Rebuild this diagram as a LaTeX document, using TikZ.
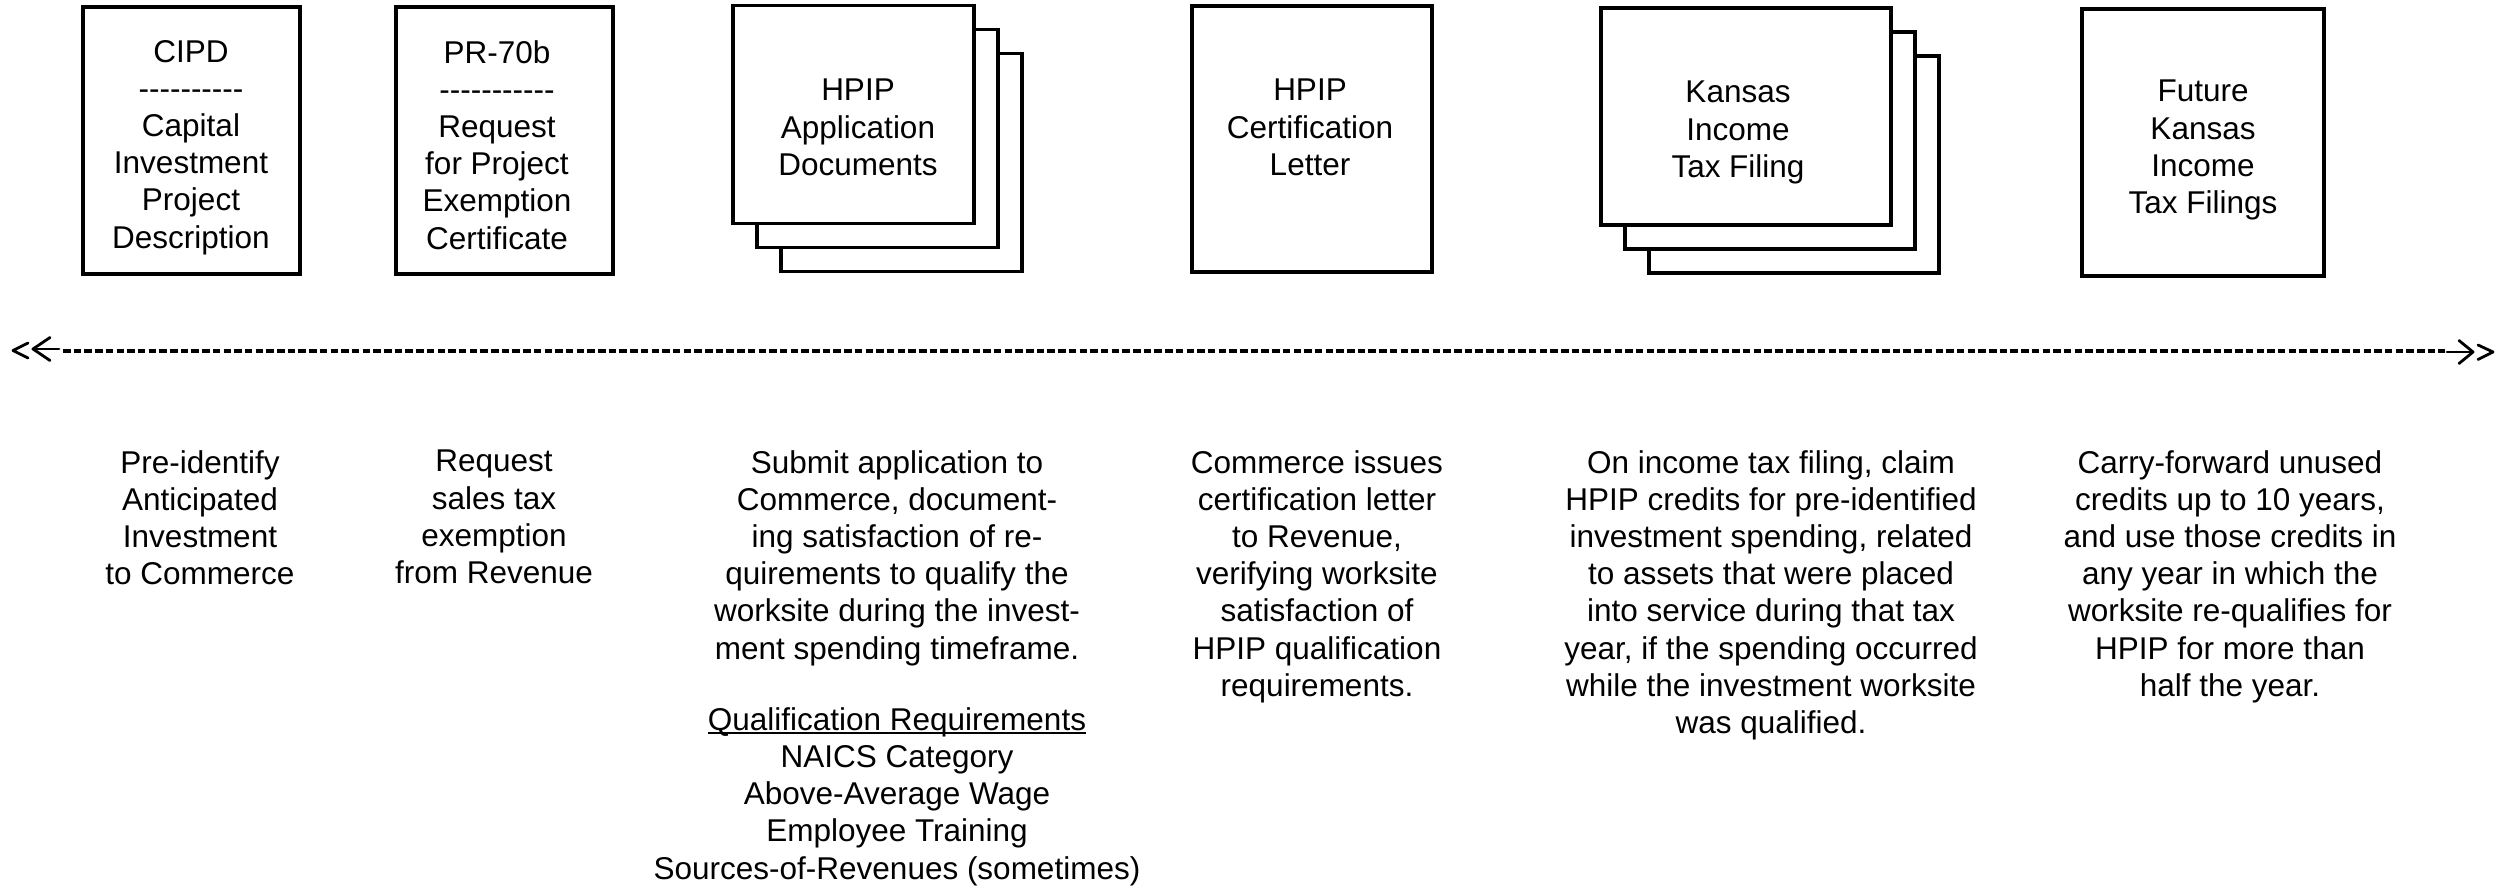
\documentclass[tikz,border=0pt]{standalone}
\usepackage{fontspec}
\setmainfont{Liberation Sans}
\newcommand\fs{\fontsize{31.5}{37.2}\selectfont}
\newcommand\hy{-\kern0pt}
\newcommand\myul[1]{\setbox0\hbox{#1}\rlap{\rule[-3.5pt]{\wd0}{2pt}}\box0}
\tikzset{
  docbox/.style={draw, line width=3.4pt, fill=white, inner sep=0pt},
  txt/.style={align=center, inner sep=0pt, font=\fs, anchor=north},
  timeline/.style={line width=4.8pt, dash pattern=on 7.5pt off 3.2pt},
  tipline/.style={line width=2.8pt, line cap=round, line join=round}
}
\begin{document}
\begin{tikzpicture}[x=1pt,y=-1pt]
\useasboundingbox (0,0) rectangle (2505,888);
% boxes
\node[docbox, minimum width=217pt, minimum height=267pt] (cipd) at (191.5,140.5) {};
\node[docbox, minimum width=217pt, minimum height=267pt] (pr) at (504.5,140.5) {};
\node[docbox, minimum width=241pt, minimum height=218pt] (app3) at (901.5,162.5) {};
\node[docbox, minimum width=241pt, minimum height=218pt] (app2) at (877.5,138.5) {};
\node[docbox, minimum width=241pt, minimum height=218pt] (app1) at (853.5,114.5) {};
\node[docbox, minimum width=240pt, minimum height=266pt] (cert) at (1312,139) {};
\node[docbox, minimum width=290pt, minimum height=217pt] (kan3) at (1794,164.5) {};
\node[docbox, minimum width=290pt, minimum height=217pt] (kan2) at (1770,140.5) {};
\node[docbox, minimum width=290pt, minimum height=217pt] (kan1) at (1746,116.5) {};
\node[docbox, minimum width=242pt, minimum height=267pt] (fut) at (2203,142.5) {};
% box texts
\node[txt] (cipdt) at (191,40) {CIPD\\\hy\hy\hy\hy\hy\hy\hy\hy\hy\hy\\Capital\\Investment\\Project\\Description};
\node[txt] (prt) at (497,40) {PR-70b\\\hy\hy\hy\hy\hy\hy\hy\hy\hy\hy\hy\\Request\\for Project\\Exemption\\Certificate};
\node[txt] (appt) at (858,79) {HPIP\\Application\\Documents};
\node[txt] (certt) at (1310,79) {HPIP\\Certification\\Letter};
\node[txt] (kant) at (1738,81) {Kansas\\Income\\Tax Filing};
\node[txt] (futt) at (2203,80) {Future\\Kansas\\Income\\Tax Filings};
% timeline
\coordinate (tl) at (63,351);
\coordinate (tr) at (2445,351);
\draw[timeline] (tl) -- (tr);
\draw[tipline] (28,343) -- (13,350.5) -- (28,358);
\draw[tipline] (59,349) -- (33,349);
\draw[tipline] (50,337.5) -- (33,349) -- (50,360.5);
\draw[tipline] (2447,352) -- (2473,352);
\draw[tipline] (2459,340.5) -- (2473,352) -- (2459,363.5);
\draw[tipline] (2478,345) -- (2493,352) -- (2478,359.5);
% descriptions
\node[txt] (d1) at (200,450) {Pre-identify\\Anticipated\\Investment\\to Commerce};
\node[txt] (d2) at (494,450) {Request\\sales tax\\exemption\\from Revenue};
\node[txt] (d3) at (897,450) {Submit application to\\Commerce, document-\\ing satisfaction of re-\\quirements to qualify the\\worksite during the invest-\\ment spending timeframe.\\[34pt]\myul{Qualification Requirements}\\NAICS Category\\Above-Average Wage\\Employee Training\\Sources-of-Revenues (sometimes)};
\node[txt] (d4) at (1317,450) {Commerce issues\\certification letter\\to Revenue,\\verifying worksite\\satisfaction of\\HPIP qualification\\requirements.};
\node[txt] (d5) at (1771,450) {On income tax filing, claim\\HPIP credits for pre-identified\\investment spending, related\\to assets that were placed\\into service during that tax\\year, if the spending occurred\\while the investment worksite\\was qualified.};
\node[txt] (d6) at (2230,450) {Carry-forward unused\\credits up to 10 years,\\and use those credits in\\any year in which the\\worksite re-qualifies for\\HPIP for more than\\half the year.};
\end{tikzpicture}
\end{document}
